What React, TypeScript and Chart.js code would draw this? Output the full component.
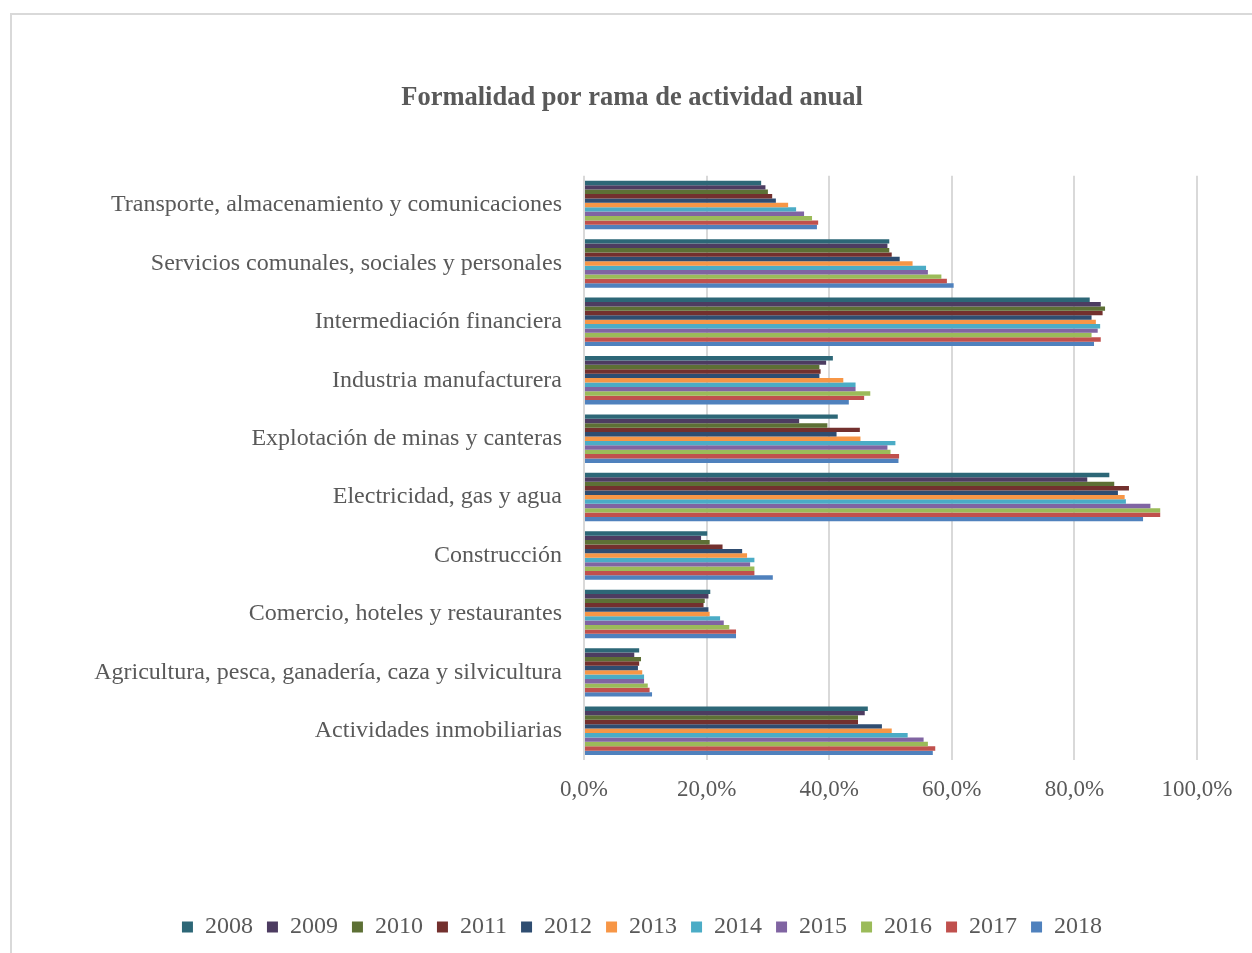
import { useEffect, useRef } from "react";
import { Chart, registerables } from "chart.js";

Chart.register(...registerables);

// Branches of activity, listed top to bottom
const categories = [
  "Transporte, almacenamiento y comunicaciones",
  "Servicios comunales, sociales y personales",
  "Intermediación financiera",
  "Industria manufacturera",
  "Explotación de minas y canteras",
  "Electricidad, gas y agua",
  "Construcción",
  "Comercio, hoteles y restaurantes",
  "Agricultura, pesca, ganadería, caza y silvicultura",
  "Actividades inmobiliarias",
];

const years = ["2008", "2009", "2010", "2011", "2012", "2013", "2014", "2015", "2016", "2017", "2018"];

const yearColors = [
  "#2D6777", "#4D3C61", "#5D7035", "#73302E", "#2F4D71",
  "#F79646", "#4BACC6", "#8064A2", "#9BBB59", "#C0504D", "#4F81BD",
];

// Formality rate (%) per branch, 2008 → 2018
const transporte = [28.9, 29.6, 30.0, 30.7, 31.3, 33.3, 34.6, 35.9, 37.2, 38.2, 38.0];
const servicios = [49.8, 49.5, 49.8, 50.2, 51.5, 53.6, 55.8, 56.1, 58.3, 59.2, 60.3];
const intermediacion = [82.5, 84.3, 85.0, 84.6, 82.8, 83.5, 84.2, 83.8, 82.8, 84.3, 83.2];
const industria = [40.6, 39.5, 38.4, 38.6, 38.4, 42.3, 44.3, 44.3, 46.7, 45.7, 43.2];
const minas = [41.4, 35.1, 39.7, 45.0, 41.2, 45.1, 50.8, 49.5, 50.0, 51.4, 51.3];
const electricidad = [85.7, 82.1, 86.5, 88.9, 87.1, 88.2, 88.4, 92.4, 94.0, 94.0, 91.2];
const construccion = [20.1, 19.1, 20.5, 22.6, 25.8, 26.6, 27.8, 27.1, 27.8, 27.8, 30.8];
const comercio = [20.6, 20.3, 19.7, 19.5, 20.3, 20.5, 22.2, 22.8, 23.7, 24.8, 24.8];
const agricultura = [9.0, 8.2, 9.3, 9.0, 8.8, 9.5, 9.8, 9.8, 10.4, 10.7, 11.1];
const inmobiliarias = [46.3, 45.8, 44.7, 44.7, 48.6, 50.2, 52.8, 55.4, 56.1, 57.3, 56.9];

const byBranch = [
  transporte, servicios, intermediacion, industria, minas,
  electricidad, construccion, comercio, agricultura, inmobiliarias,
];

const xTicks = [0, 20, 40, 60, 80, 100];

const TEXT = "#595959";
const GRID = "#d9d9d9";

// Nudges the legend row a little to the right of the title's centre line
const legendOffset = {
  id: "legendOffset",
  afterLayout(chart: any) {
    const lg = chart.legend;
    if (lg) {
      lg.left += 10;
      lg.right += 10;
    }
  },
};

export default function App() {
  const canvasRef = useRef<HTMLCanvasElement | null>(null);

  useEffect(() => {
    if (!canvasRef.current) return;
    Chart.defaults.font.family = "'Liberation Serif', 'Times New Roman', serif";
    Chart.defaults.color = TEXT;

    const datasets = years.map((year, i) => ({
      label: year,
      data: byBranch.map((row) => row[i]),
      backgroundColor: yearColors[i],
      borderWidth: 0,
      categoryPercentage: 0.83,
      barPercentage: 1,
    }));

    const chart = new Chart(canvasRef.current, {
      type: "bar",
      data: { labels: categories, datasets },
      plugins: [legendOffset],
      options: {
        indexAxis: "y",
        responsive: false,
        animation: false,
        layout: { padding: { left: 55, right: 55, bottom: 4 } },
        plugins: {
          title: {
            display: true,
            text: "Formalidad por rama de actividad anual",
            color: TEXT,
            font: { size: 26.5, weight: "bold" },
            padding: { top: 67, bottom: 62 },
          },
          legend: {
            position: "bottom",
            labels: {
              boxWidth: 11,
              boxHeight: 11,
              padding: 14,
              color: TEXT,
              font: { size: 24 },
            },
          },
          tooltip: { enabled: false },
        },
        scales: {
          x: {
            min: 0,
            max: 100,
            afterBuildTicks: (scale: any) => {
              scale.ticks = xTicks.map((v) => ({ value: v }));
            },
            afterFit: (scale: any) => {
              scale.height = 141;
            },
            ticks: {
              color: TEXT,
              font: { size: 23 },
              padding: 16,
              callback: (v: any) => Number(v).toFixed(1).replace(".", ",") + "%",
            },
            grid: { color: GRID, lineWidth: 2, drawTicks: false },
            border: { display: false },
          },
          y: {
            afterFit: (scale: any) => {
              scale.width = 517;
            },
            ticks: { color: TEXT, font: { size: 24 }, padding: 14 },
            grid: { display: false },
            border: { display: false },
          },
        },
      },
    });
    return () => chart.destroy();
  }, []);

  return (
    <div
      style={{
        position: "fixed",
        left: 10,
        top: 13,
        right: 0,
        bottom: 0,
        borderTop: `2px solid ${GRID}`,
        borderLeft: `2px solid ${GRID}`,
        background: "#fff",
        overflow: "hidden",
      }}
    >
      <canvas ref={canvasRef} width={1240} height={938} style={{ display: "block" }} />
    </div>
  );
}
